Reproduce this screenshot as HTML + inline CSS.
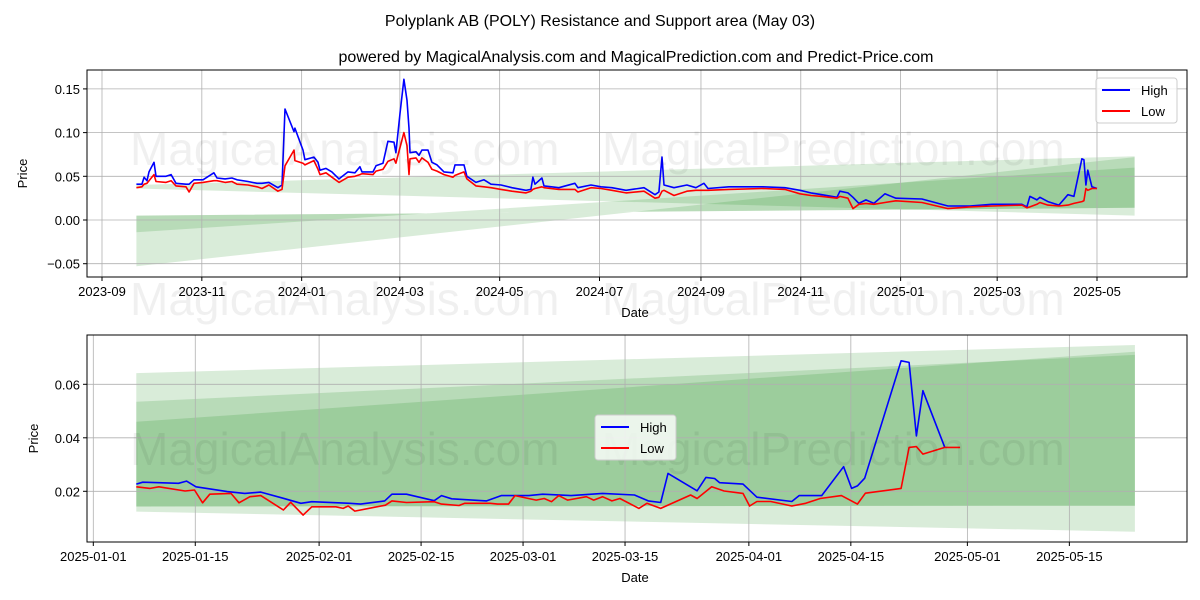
<!DOCTYPE html>
<html><head><meta charset="utf-8"><style>
html,body{margin:0;padding:0;background:#fff}
svg{display:block;font-family:"Liberation Sans","DejaVu Sans",sans-serif}
</style></head><body>
<svg id="chart" width="1200" height="600" viewBox="0 0 1200 600" xmlns="http://www.w3.org/2000/svg">
<text x="600" y="26" text-anchor="middle" font-size="16">Polyplank AB (POLY) Resistance and Support area (May 03)</text>
<text x="636" y="62" text-anchor="middle" font-size="16">powered by MagicalAnalysis.com and MagicalPrediction.com and Predict-Price.com</text>
<g id="top"></g>
<g id="bot"></g>
</svg>
<script>
// ---------- TOP PANEL DATA (days since 2023-09-01) ----------
const topDays = [21,24.4,25.7,27.5,28.7,31.8,33,39.1,42.2,45.2,51.3,53.2,56.2,61.7,68.4,70.3,75.2,79.4,82.5,89.2,94.7,97.8,102,107.5,110,111.8,117.3,117.9,122.8,124,129.5,132,133.2,136.9,140.5,144.8,150.3,154.6,157.6,158.9,165.6,167.4,171.7,174.7,178.4,179.6,182.1,184.5,186.4,187.6,188.2,191.9,193.7,195.5,199.2,201.6,204.7,209,214.5,215.7,221.2,223,228.5,233.4,237.7,243.8,250.5,259.1,262.1,263.3,264.6,268.8,270.1,279.2,289,290.8,298.8,304.9,311.6,320.2,331.2,337.9,340.3,342.2,343.4,349.5,357.4,362.9,367.8,370.3,383.1,403.9,417.3,426.5,433.2,439.9,449.1,450.9,455.8,458.9,462.5,466.8,471.7,478.4,485.1,501,516.9,530.3,543.8,562.1,565.2,567,571.3,573.1,578,584.7,590.2,593.9,598.8,600,601.2,602.4,604.9,608];
const topHigh = [.041,.041,.049,.045,.055,.066,.050,.050,.052,.042,.041,.041,.046,.046,.054,.048,.047,.048,.046,.044,.042,.042,.043,.037,.040,.127,.101,.105,.080,.069,.072,.066,.057,.059,.055,.047,.055,.054,.061,.055,.055,.062,.065,.090,.089,.077,.122,.161,.137,.105,.077,.078,.074,.080,.080,.066,.063,.055,.054,.063,.063,.050,.043,.046,.041,.040,.037,.034,.035,.049,.041,.048,.039,.037,.042,.037,.040,.038,.037,.034,.037,.029,.032,.072,.040,.037,.040,.037,.042,.036,.038,.038,.037,.034,.031,.029,.026,.033,.031,.026,.019,.023,.019,.030,.025,.024,.016,.016,.018,.018,.015,.027,.023,.026,.021,.017,.029,.027,.070,.069,.040,.057,.038,.036];
const topLow = [.037,.038,.041,.042,.045,.052,.044,.043,.045,.039,.038,.032,.042,.043,.045,.045,.043,.044,.041,.040,.038,.036,.040,.033,.035,.062,.080,.068,.065,.063,.068,.058,.052,.054,.049,.043,.049,.050,.052,.053,.052,.056,.058,.067,.070,.065,.083,.100,.085,.052,.070,.071,.066,.071,.066,.058,.056,.052,.049,.051,.055,.047,.039,.038,.037,.035,.033,.031,.033,.035,.036,.038,.037,.035,.035,.032,.037,.036,.034,.031,.033,.025,.026,.033,.034,.028,.033,.034,.034,.034,.035,.036,.035,.030,.028,.027,.025,.027,.025,.013,.018,.019,.018,.020,.022,.020,.013,.015,.016,.017,.014,.015,.018,.020,.017,.016,.017,.019,.021,.022,.036,.034,.036,.036];
const topBandStart = [21,21,21];
const topBandEnd = [631,631,631];
const topBandA0 = [.040,.005,.005];   // line a start
const topBandA1 = [.073,.014,.014];   // line a end
const topBandB0 = [.036,-.053,-.014]; // line b start
const topBandB1 = [.005,.072,.060];   // line b end
const topYTicks = [0.15,0.10,0.05,0.00,-0.05];
const topYTickLabels = ["0.15","0.10","0.05","0.00","\u22120.05"];
const topXTicks = [0,61,122,182,243,304,366,427,488,547,608];
const topXTickLabels = ["2023-09","2023-11","2024-01","2024-03","2024-05","2024-07","2024-09","2024-11","2025-01","2025-03","2025-05"];

// ---------- BOTTOM PANEL DATA (days since 2025-01-01) ----------
const botHighDays = [5.9,6.8,11.7,12.8,14.1,18.4,19.5,20.8,23,26.1,28.5,30,35.2,36.7,40,41,43,46.8,47.8,49.2,54,56,59.8,61.7,65.6,69.9,74.3,76.2,77.9,78.9,82.9,84.1,85.3,86,89.2,91.1,95.9,96.9,100,103,104.1,104.9,105.9,110.9,112,113,113.9,116.9];
const botHigh = [.0227,.0234,.0230,.0238,.0217,.0199,.0196,.0192,.0197,.0174,.0155,.0161,.0155,.0152,.0164,.0189,.0189,.0165,.0184,.0172,.0164,.0184,.0184,.0189,.0184,.0192,.0186,.0164,.0158,.0267,.0202,.0252,.0248,.0232,.0227,.0178,.0162,.0184,.0184,.0292,.0211,.0220,.0249,.0688,.0682,.0407,.0576,.0364];
const botLowDays = [5.9,7.8,9,12.6,13.9,15,16,18.9,20,21.5,23,26.1,27.1,28.8,30,33.3,34.3,35,35.9,40.1,41,43,46.8,47.8,50.2,51,54.5,55.5,57,57.9,60.8,61.9,62.9,63.9,65.1,67.7,68.7,69.9,71.2,72.3,74.9,76,77.9,82,82.9,84.9,86.6,89.2,90.1,91.1,93,95.9,97.8,99.8,102.7,104.9,106,110.9,112,113,113.9,116.9,119];
const botLow = [.0217,.0211,.0217,.0201,.0205,.0157,.0189,.0192,.0157,.0180,.0184,.0130,.0159,.0111,.0142,.0142,.0136,.0145,.0126,.0148,.0164,.0158,.0161,.0152,.0147,.0155,.0155,.0152,.0152,.0184,.0167,.0173,.0161,.0184,.0167,.0180,.0167,.0180,.0164,.0173,.0136,.0155,.0136,.0186,.0173,.0217,.0201,.0192,.0145,.0162,.0162,.0145,.0155,.0173,.0184,.0152,.0193,.0211,.0364,.0367,.0339,.0364,.0364];
const botBandStart = [5.9,5.9,5.9];
const botBandEnd = [143,143,143];
const botBandA0 = [.0642,.0535,.0460];
const botBandA1 = [.0747,.0710,.0722];
const botBandB0 = [.0124,.0143,.0143];
const botBandB1 = [.0049,.0146,.0146];
const botYTicks = [0.06,0.04,0.02];
const botYTickLabels = ["0.06","0.04","0.02"];
const botXTicks = [0,14,31,45,59,73,90,104,120,134];
const botXTickLabels = ["2025-01-01","2025-01-15","2025-02-01","2025-02-15","2025-03-01","2025-03-15","2025-04-01","2025-04-15","2025-05-01","2025-05-15"];

const NS = "http://www.w3.org/2000/svg";
function mk(tag, attrs, parent){
  const e = document.createElementNS(NS, tag);
  for (const k in attrs) e.setAttribute(k, attrs[k]);
  parent.appendChild(e);
  return e;
}

function panel(g, cfg){
  const X = cfg.x, Y = cfg.y;
  const L = cfg.left, R = cfg.right, T = cfg.top, B = cfg.bottom;
  // clip
  const cp = mk("clipPath", {id: cfg.id + "clip"}, g);
  mk("rect", {x: L, y: T, width: R - L, height: B - T}, cp);
  const plot = mk("g", {"clip-path": "url(#" + cfg.id + "clip)"}, g);
  
  
  // bands
  for (let i = 0; i < cfg.bs.length; i++){
    const pts = [
      [X(cfg.bs[i]), Y(cfg.a0[i])], [X(cfg.be[i]), Y(cfg.a1[i])],
      [X(cfg.be[i]), Y(cfg.b1[i])], [X(cfg.bs[i]), Y(cfg.b0[i])]
    ].map(p => p[0].toFixed(1) + "," + p[1].toFixed(1)).join(" ");
    const poly = mk("polygon", {points: pts, fill: "#008000", "fill-opacity": 0.15, stroke: "none"}, plot);
    
    
  }
  // grid
  cfg.yt.forEach(v => {
    const gl = mk("line", {x1: L, x2: R, y1: Y(v), y2: Y(v), stroke: "#b0b0b0", "stroke-width": 0.8}, plot);
    
    
  });
  cfg.xt.forEach(v => {
    const gl = mk("line", {x1: X(v), x2: X(v), y1: T, y2: B, stroke: "#b0b0b0", "stroke-width": 0.8}, plot);
    
    
  });
  // watermarks
  cfg.wm.forEach(w => {
    const t = mk("text", {x: w[0], y: w[1], "font-size": 46, fill: "#000", "fill-opacity": 0.06}, g);
    t.textContent = w[2];
    
    
  });
  // lines
  function line(days, vals, color, name){
    const d = days.map((x, i) => (i ? "L" : "M") + X(x).toFixed(1) + "," + Y(vals[i]).toFixed(1)).join("");
    const p = mk("path", {d: d, fill: "none", stroke: color, "stroke-width": 1.6, "stroke-linejoin": "round"}, plot);
    
    
  }
  line(cfg.hd, cfg.h, "#0000ff", "high-line");
  line(cfg.ld, cfg.l, "#ff0000", "low-line");
  // frame
  const fr = mk("rect", {x: L, y: T, width: R - L, height: B - T, fill: "none", stroke: "#000", "stroke-width": 1}, g);
  
  
  // ticks
  cfg.yt.forEach((v, i) => {
    mk("line", {x1: L - 4, x2: L, y1: Y(v), y2: Y(v), stroke: "#000"}, g);
    const t = mk("text", {x: L - 7, y: Y(v) + 5, "text-anchor": "end", "font-size": 13}, g);
    t.textContent = cfg.ytl[i];
    
    
  });
  cfg.xt.forEach((v, i) => {
    mk("line", {x1: X(v), x2: X(v), y1: B, y2: B + 4, stroke: "#000"}, g);
    const t = mk("text", {x: X(v), y: B + 19, "text-anchor": "middle", "font-size": 13}, g);
    t.textContent = cfg.xtl[i];
    
    
  });
  const xl = mk("text", {x: (L + R) / 2 - 2, y: B + 40, "text-anchor": "middle", "font-size": 13}, g);
  xl.textContent = "Date";
  
  
  const yl = mk("text", {x: 0, y: 0, "text-anchor": "middle", "font-size": 13, transform: "translate(" + cfg.ylx + "," + (T + B) / 2 + ") rotate(-90)"}, g);
  yl.textContent = "Price";
  
  
  // legend
  const lg = mk("g", {}, g);
  
  
  const lx = cfg.leg[0], ly = cfg.leg[1];
  mk("rect", {x: lx, y: ly, width: 81, height: 45, rx: 3, fill: "#fff", "fill-opacity": 0.8, stroke: "#cccccc"}, lg);
  [["High", "#0000ff"], ["Low", "#ff0000"]].forEach((e, i) => {
    const ent = mk("g", {}, lg);
    
    
    mk("line", {x1: lx + 6, x2: lx + 34, y1: ly + 12 + i * 21, y2: ly + 12 + i * 21, stroke: e[1], "stroke-width": 2}, ent);
    const t = mk("text", {x: lx + 45, y: ly + 17 + i * 21, "font-size": 13}, ent);
    t.textContent = e[0];
  });
}

const topXS = d => 102 + d * 1.6365;
const topYS = v => 220 - v * 874;
panel(document.getElementById("top"), {
  id: "t", x: topXS, y: topYS, left: 87, right: 1187, top: 70, bottom: 277,
  bs: topBandStart, be: topBandEnd, a0: topBandA0, a1: topBandA1, b0: topBandB0, b1: topBandB1,
  yt: topYTicks, ytl: topYTickLabels, xt: topXTicks, xtl: topXTickLabels,
  hd: topDays, h: topHigh, ld: topDays, l: topLow, ylx: 27, leg: [1096, 78],
  wm: [[130, 165, "MagicalAnalysis.com"], [602, 165, "MagicalPrediction.com"], [130, 315, "MagicalAnalysis.com"], [602, 315, "MagicalPrediction.com"]]
});

const botXS = d => 93.3 + d * 7.284;
const botYS = v => 491.3 - (v - 0.02) * 2675;
panel(document.getElementById("bot"), {
  id: "b", x: botXS, y: botYS, left: 87, right: 1187, top: 335, bottom: 542,
  bs: botBandStart, be: botBandEnd, a0: botBandA0, a1: botBandA1, b0: botBandB0, b1: botBandB1,
  yt: botYTicks, ytl: botYTickLabels, xt: botXTicks, xtl: botXTickLabels,
  hd: botHighDays, h: botHigh, ld: botLowDays, l: botLow, ylx: 38, leg: [595, 415],
  wm: [[130, 465, "MagicalAnalysis.com"], [602, 465, "MagicalPrediction.com"]]
});
</script>
</body></html>
